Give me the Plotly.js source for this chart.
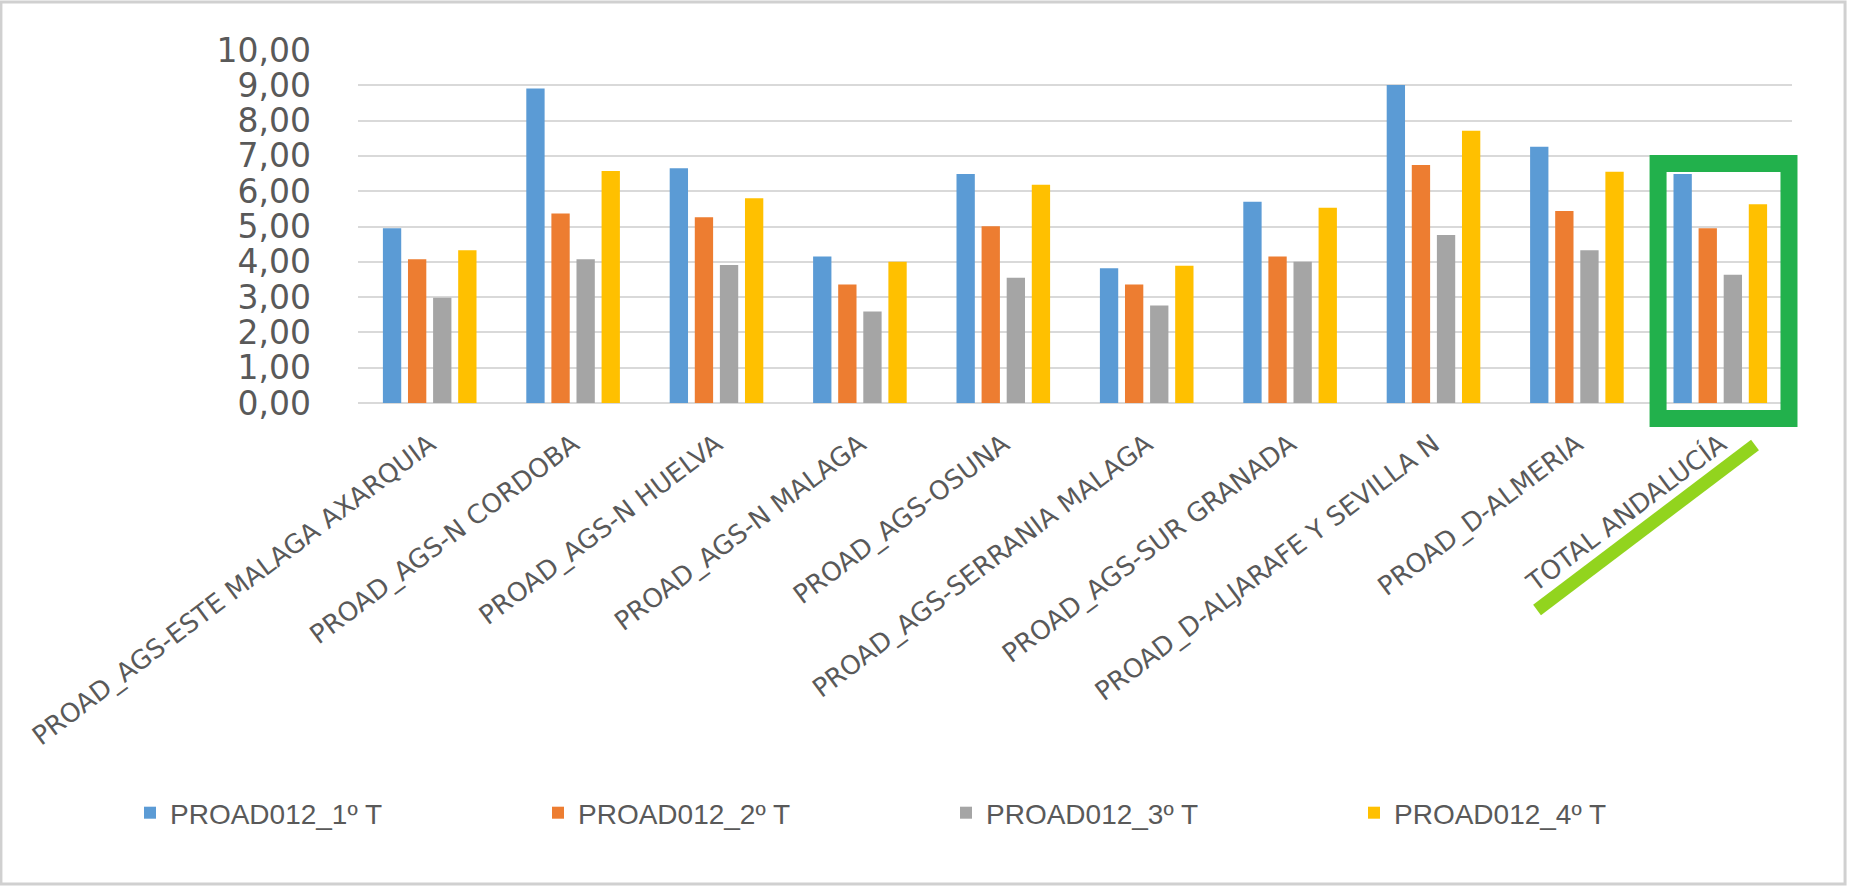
<!DOCTYPE html>
<html>
<head>
<meta charset="utf-8">
<script src="https://cdn.plot.ly/plotly-3.0.1.min.js"></script>
<style>
  html, body { margin: 0; padding: 0; background: #ffffff; }
  #chart { width: 1854px; height: 887px; }
</style>
</head>
<body>
<div id="chart"></div>
<script>
// ---- data ----
const categories = [
  "PROAD_AGS-ESTE MALAGA AXARQUIA",
  "PROAD_AGS-N CORDOBA",
  "PROAD_AGS-N HUELVA",
  "PROAD_AGS-N MALAGA",
  "PROAD_AGS-OSUNA",
  "PROAD_AGS-SERRANIA MALAGA",
  "PROAD_AGS-SUR GRANADA",
  "PROAD_D-ALJARAFE Y SEVILLA N",
  "PROAD_D-ALMERIA",
  "TOTAL ANDALUCÍA"
];
const seriesNames = ["PROAD012_1º T", "PROAD012_2º T", "PROAD012_3º T", "PROAD012_4º T"];
const q1 = [4.95, 8.91, 6.65, 4.15, 6.49, 3.82, 5.70, 9.01, 7.26, 6.49];
const q2 = [4.07, 5.37, 5.26, 3.36, 5.01, 3.36, 4.15, 6.74, 5.44, 4.95];
const q3 = [2.98, 4.07, 3.91, 2.59, 3.55, 2.76, 4.00, 4.76, 4.33, 3.63];
const q4 = [4.33, 6.57, 5.80, 4.00, 6.18, 3.89, 5.53, 7.71, 6.55, 5.63];
const yTicks = [0, 1, 2, 3, 4, 5, 6, 7, 8, 9, 10];

const colors = ["#5B9BD5", "#ED7D31", "#A5A5A5", "#FFC000"];
const seriesValues = [q1, q2, q3, q4];
const legendIds = ["legend", "legend2", "legend3", "legend4"];

const traces = seriesValues.map((vals, i) => ({
  type: "bar",
  name: seriesNames[i],
  x: categories,
  y: vals,
  marker: { color: colors[i] },
  legend: legendIds[i],
  hoverinfo: "skip"
}));

const textGray = "#595959";

// one legend box per series, laid out in a row like the original
const legendLeft = [130, 538, 946, 1354];
function legendBox(px) {
  return {
    orientation: "h",
    xref: "container",
    yref: "container",
    x: px / 1854,
    xanchor: "left",
    y: 1 - 813 / 887,
    yanchor: "middle",
    font: { family: "Liberation Sans, Arial, sans-serif", size: 28, color: textGray },
    bgcolor: "rgba(0,0,0,0)"
  };
}

const layout = {
  width: 1854,
  height: 887,
  paper_bgcolor: "#ffffff",
  plot_bgcolor: "#ffffff",
  margin: { l: 358, r: 62, t: 50, b: 484, autoexpand: false },
  separators: ",.",
  barmode: "group",
  bargap: 0.30,
  bargroupgap: 0.27,
  showlegend: true,
  legend: legendBox(legendLeft[0]),
  legend2: legendBox(legendLeft[1]),
  legend3: legendBox(legendLeft[2]),
  legend4: legendBox(legendLeft[3]),
  xaxis: {
    type: "category",
    tickangle: -37,
    tickfont: { family: "DejaVu Sans, sans-serif", size: 26, color: textGray },
    showgrid: false,
    showline: false,
    ticks: "",
    ticklabelstandoff: 20,
    automargin: false,
    zeroline: false
  },
  yaxis: {
    range: [0, 10],
    tickvals: yTicks,
    tickformat: ".2f",
    tickfont: { family: "DejaVu Sans, sans-serif", size: 33, color: textGray },
    showgrid: true,
    gridcolor: "#d9d9d9",
    gridwidth: 2,
    zeroline: true,
    zerolinecolor: "#d9d9d9",
    zerolinewidth: 2,
    showline: false,
    ticks: "",
    ticklabelstandoff: 46,
    automargin: false,
    fixedrange: true
  },
  shapes: [
    // outer frame
    { type: "rect", xref: "paper", yref: "paper", x0: -0.249, x1: 1.037, y0: -1.3626, y1: 1.136,
      line: { color: "#d0d0d0", width: 3 }, fillcolor: "rgba(0,0,0,0)", layer: "below" },
    // green highlight box
    { type: "rect", xref: "paper", yref: "paper", x0: 0.9066, x1: 0.9979, y0: -0.0439, y1: 0.6785,
      line: { color: "#22B14C", width: 17 }, fillcolor: "rgba(0,0,0,0)", layer: "above" },
    // lime underline
    { type: "line", xref: "paper", yref: "paper", x0: 0.8222, y0: -0.5864, x1: 0.9742, y1: -0.119,
      line: { color: "#92D41E", width: 13 }, layer: "above" }
  ]
};

Plotly.newPlot("chart", traces, layout, { staticPlot: true, displayModeBar: false });
</script>
</body>
</html>
